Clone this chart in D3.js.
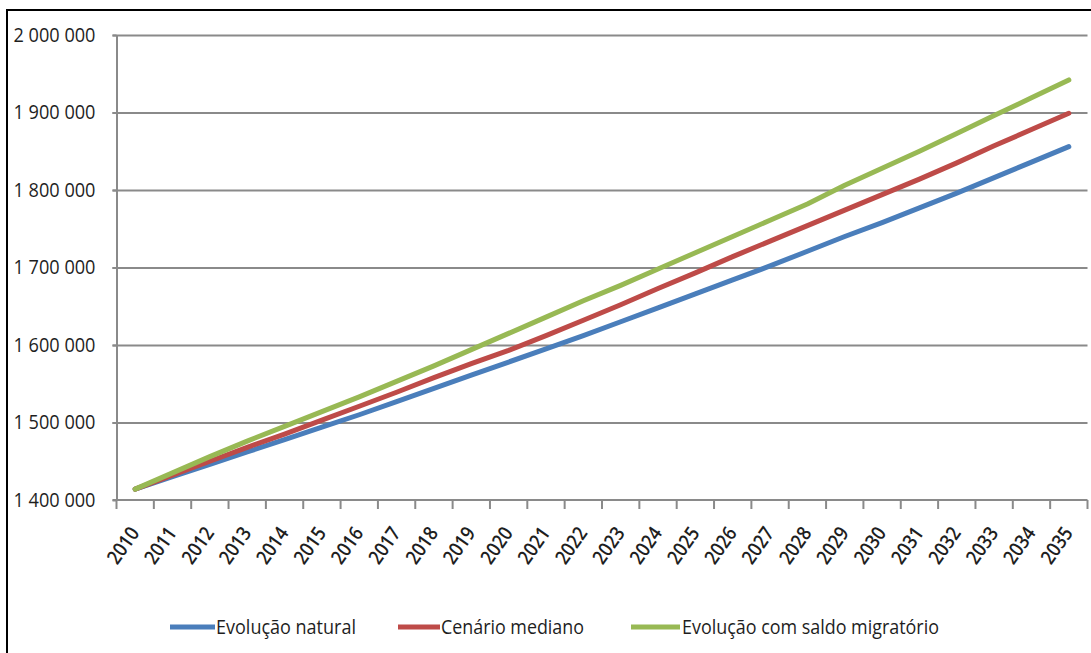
<!DOCTYPE html>
<html>
<head>
<meta charset="utf-8">
<script src="https://cdn.jsdelivr.net/npm/d3@7"></script>
<style>
  body { margin: 0; background: #fff; }
  svg { display: block; }
  text { font-family: "Open Sans", "Noto Sans", sans-serif; fill: #1e1e1e; }
</style>
</head>
<body>
<svg id="chart" width="1091" height="653"></svg>
<script>
// Population projection, 2010–2035
const years = ["2010", "2011", "2012", "2013", "2014", "2015", "2016", "2017", "2018",
  "2019", "2020", "2021", "2022", "2023", "2024", "2025", "2026", "2027", "2028",
  "2029", "2030", "2031", "2032", "2033", "2034", "2035"];

const evolucaoNatural = [1414000, 1430000, 1446000, 1462000, 1478000, 1494000, 1510000,
  1527000, 1544000, 1561000, 1578000, 1595000, 1612000, 1630000, 1648000, 1666000,
  1684000, 1702000, 1721000, 1740000, 1758000, 1777000, 1796000, 1816000, 1836000, 1856000];

const cenarioMediano = [1414000, 1432000, 1450000, 1468000, 1485000, 1503000, 1521000,
  1539000, 1558000, 1576000, 1593000, 1612000, 1632000, 1652000, 1673000, 1693000,
  1714000, 1734000, 1754000, 1774000, 1794000, 1814000, 1835000, 1857000, 1878000, 1899000];

const evolucaoSaldoMigratorio = [1414000, 1435000, 1456000, 1476000, 1495000, 1514000,
  1533000, 1553000, 1573000, 1594000, 1615000, 1636000, 1657000, 1677000, 1698000,
  1719000, 1740000, 1761000, 1782000, 1806000, 1828000, 1850000, 1873000, 1896000,
  1919000, 1942000];

const yTicks = [1400000, 1500000, 1600000, 1700000, 1800000, 1900000, 2000000];

const seriesNames = ["Evolução natural", "Cenário mediano", "Evolução com saldo migratório"];
const seriesValues = [evolucaoNatural, cenarioMediano, evolucaoSaldoMigratorio];
const seriesColors = ["#4a7ebb", "#be4b48", "#98b954"];

const svg = d3.select("#chart");
const W = 1091, H = 653;
const plot = { left: 116.5, right: 1087.5, top: 35, bottom: 500 };

// outer frame
svg.append("rect")
  .attr("x", 7).attr("y", 10)
  .attr("width", W + 20).attr("height", H + 20)
  .attr("fill", "none").attr("stroke", "#000").attr("stroke-width", 2);

const x = d3.scaleBand().domain(years).range([plot.left, plot.right]).padding(0);
const y = d3.scaleLinear().domain([yTicks[0], yTicks[yTicks.length - 1]]).range([plot.bottom, plot.top]);
const cx = d => x(d) + x.bandwidth() / 2;

const axisColor = "#8a8a8a";
const fmt = d3.formatLocale({ decimal: ",", thousands: " ", grouping: [3], currency: ["", "€"] }).format(",d");

// horizontal gridlines
const grid = svg.append("g")
  .attr("transform", `translate(${plot.left},0)`)
  .call(d3.axisLeft(y).tickValues(yTicks.slice(1)).tickSize(-(plot.right - plot.left)).tickSizeOuter(0).tickFormat(""));
grid.select(".domain").remove();
grid.selectAll(".tick line").attr("stroke", axisColor).attr("stroke-width", 2)
  .attr("x1", -4);

// value axis
const yAxis = svg.append("g")
  .attr("transform", `translate(${plot.left},0)`)
  .call(d3.axisLeft(y).tickValues(yTicks).tickSize(4).tickSizeOuter(0).tickPadding(17).tickFormat(fmt));
yAxis.select(".domain").attr("stroke", axisColor).attr("stroke-width", 2);
yAxis.selectAll(".tick line").attr("stroke", axisColor).attr("stroke-width", 2);
yAxis.selectAll(".tick text")
  .attr("font-size", 20)
  .attr("textLength", 82).attr("lengthAdjust", "spacingAndGlyphs")
  .style("font-family", null);

// category axis: line, boundary ticks, rotated labels
const xAxis = svg.append("g");
xAxis.append("line")
  .attr("x1", plot.left - 4).attr("x2", plot.right)
  .attr("y1", plot.bottom).attr("y2", plot.bottom)
  .attr("stroke", axisColor).attr("stroke-width", 2);
const bounds = years.map(d => x(d)).concat([plot.right]);
xAxis.selectAll("line.tk").data(bounds).join("line")
  .attr("class", "tk")
  .attr("x1", d => d).attr("x2", d => d)
  .attr("y1", plot.bottom).attr("y2", plot.bottom + 9)
  .attr("stroke", axisColor).attr("stroke-width", 2);
xAxis.selectAll("text").data(years).join("text")
  .attr("transform", d => `translate(${cx(d) + 5},${plot.bottom + 33}) rotate(-55)`)
  .attr("text-anchor", "end")
  .attr("font-size", 20)
  .attr("font-weight", 600)
  .attr("textLength", 40).attr("lengthAdjust", "spacingAndGlyphs")
  .text(d => d);

// series lines
const line = d3.line()
  .x((v, i) => cx(years[i]))
  .y(v => y(v));

svg.append("g").selectAll("path").data(seriesValues).join("path")
  .attr("d", d => line(d))
  .attr("fill", "none")
  .attr("stroke", (d, i) => seriesColors[i])
  .attr("stroke-width", 5)
  .attr("stroke-linecap", "round")
  .attr("stroke-linejoin", "round");

// legend
const legendItems = [
  { x0: 170, x1: 215, tx: 216, len: 140 },
  { x0: 398, x1: 440, tx: 441, len: 143 },
  { x0: 631, x1: 680, tx: 682, len: 257 }
];
const legendY = 627;
const lg = svg.append("g");
legendItems.forEach((it, i) => {
  lg.append("line")
    .attr("x1", it.x0).attr("x2", it.x1)
    .attr("y1", legendY).attr("y2", legendY)
    .attr("stroke", seriesColors[i]).attr("stroke-width", 5);
  lg.append("text")
    .attr("x", it.tx).attr("y", legendY)
    .attr("dy", "0.35em")
    .attr("font-size", 20)
    .attr("textLength", it.len).attr("lengthAdjust", "spacingAndGlyphs")
    .text(seriesNames[i]);
});
</script>
</body>
</html>
